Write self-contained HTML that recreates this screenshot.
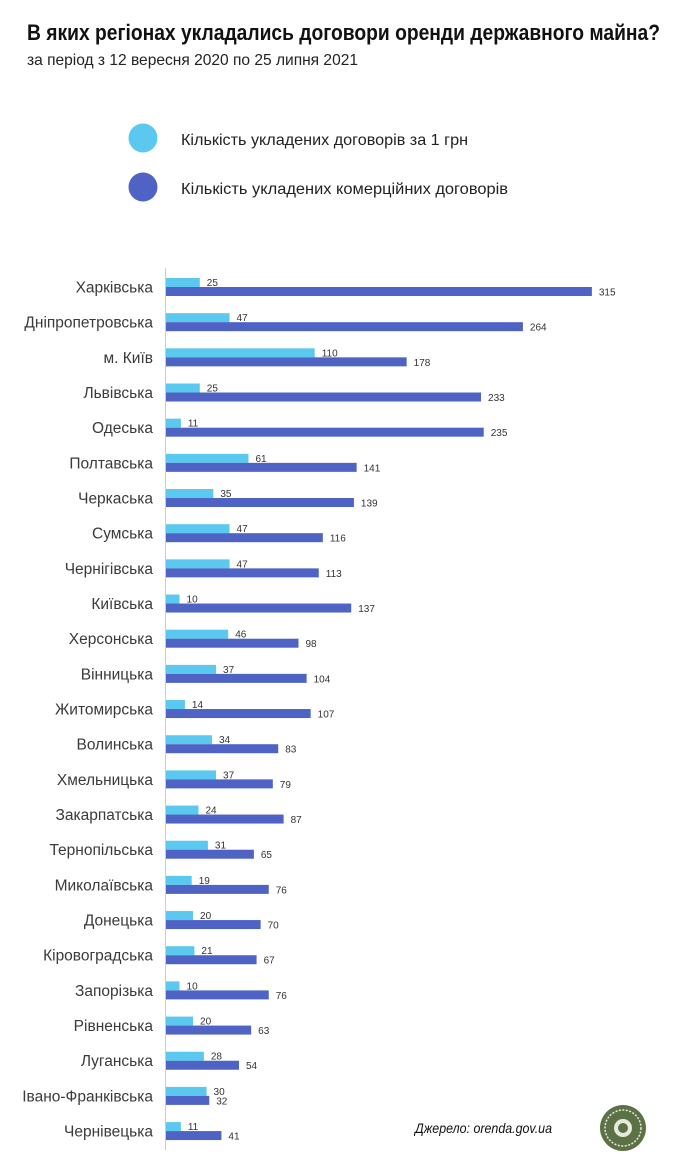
<!DOCTYPE html>
<html><head><meta charset="utf-8"><style>
html,body{margin:0;padding:0;background:#fff;}
svg{display:block;}
text{font-family:"Liberation Sans","DejaVu Sans",sans-serif;}
</style></head><body>
<svg width="690" height="1170" viewBox="0 0 690 1170" xmlns="http://www.w3.org/2000/svg">
<text x="27" y="40" font-size="22" font-weight="bold" fill="#111" textLength="633" lengthAdjust="spacingAndGlyphs">В яких регіонах укладались договори оренди державного майна?</text>
<text x="27" y="65" font-size="16" fill="#222" textLength="331" lengthAdjust="spacingAndGlyphs">за період з 12 вересня 2020 по 25 липня 2021</text>
<circle cx="143" cy="138" r="14.5" fill="#5bc8f0"/>
<circle cx="143" cy="187" r="14.5" fill="#4e63c4"/>
<text x="181" y="145" font-size="16" fill="#222" textLength="287" lengthAdjust="spacingAndGlyphs">Кількість укладених договорів за 1 грн</text>
<text x="181" y="194" font-size="16" fill="#222" textLength="327" lengthAdjust="spacingAndGlyphs">Кількість укладених комерційних договорів</text>
<line x1="165.5" y1="268" x2="165.5" y2="1150" stroke="#ccc" stroke-width="1"/>
<g id="rows"></g>
<text x="552" y="1133" font-size="14" font-style="italic" fill="#111" text-anchor="end" textLength="137" lengthAdjust="spacingAndGlyphs">Джерело: orenda.gov.ua</text>
<circle cx="623" cy="1128" r="23" fill="#5d7146"/>
<circle cx="623" cy="1128" r="18" fill="none" stroke="#e8eadc" stroke-width="1.5" stroke-dasharray="2 1.5"/>
<circle cx="623" cy="1128" r="9" fill="#e8eadc"/>
<circle cx="623" cy="1128" r="5" fill="#5d7146"/>
</svg>
<script>
var d=[["Харківська",25,315],["Дніпропетровська",47,264],["м. Київ",110,178],["Львівська",25,233],["Одеська",11,235],["Полтавська",61,141],["Черкаська",35,139],["Сумська",47,116],["Чернігівська",47,113],["Київська",10,137],["Херсонська",46,98],["Вінницька",37,104],["Житомирська",14,107],["Волинська",34,83],["Хмельницька",37,79],["Закарпатська",24,87],["Тернопільська",31,65],["Миколаївська",19,76],["Донецька",20,70],["Кіровоградська",21,67],["Запорізька",10,76],["Рівненська",20,63],["Луганська",28,54],["Івано-Франківська",30,32],["Чернівецька",11,41]];
var s="",k=1.352;
d.forEach(function(r,i){var y=278+35.17*i;var a=r[1]*k,b=r[2]*k;
s+='<text x="153" y="'+(y+14.5)+'" font-size="15.5" fill="#3a3a3a" text-anchor="end">'+r[0]+'</text>';
s+='<rect x="166" y="'+y+'" width="'+a+'" height="9" fill="#5bc8f0"/>';
s+='<rect x="166" y="'+(y+9)+'" width="'+b+'" height="9" fill="#4e63c4"/>';
s+='<text x="'+(166+a+7)+'" y="'+(y+8)+'" font-size="10" fill="#333">'+r[1]+'</text>';
s+='<text x="'+(166+b+7)+'" y="'+(y+17.5)+'" font-size="10" fill="#333">'+r[2]+'</text>';});
document.getElementById("rows").innerHTML=s;
</script>
</body></html>
